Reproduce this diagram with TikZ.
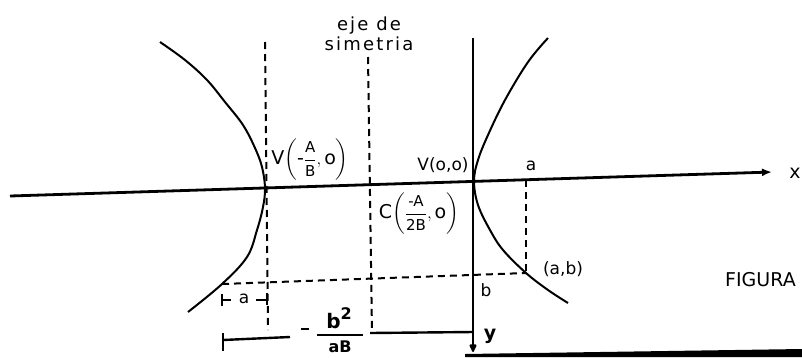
\documentclass[tikz,border=0pt]{standalone}
\usepackage{amsmath}
\usepackage{fontspec}
\setmainfont{DejaVu Sans}
\newfontfamily\lett[LetterSpace=12]{DejaVu Sans}
\usetikzlibrary{arrows.meta}
\newcommand\myfr[2]{\dfrac{\text{\fontsize{15}{15}\selectfont #1}}{\text{\fontsize{15}{15}\selectfont #2}}}
\begin{document}
\begin{tikzpicture}[x=1pt,y=-1pt,
  curve/.style={line width=2pt},
  axisline/.style={line width=2.8pt},
  dsh/.style={line width=2pt, dash pattern=on 7pt off 5pt},
  thin/.style={line width=2pt},
  lbl/.style={inner sep=0pt, font=\fontsize{19}{22}\selectfont},
  slbl/.style={inner sep=0pt, font=\fontsize{17}{20}\selectfont}]
\useasboundingbox (0,0) rectangle (802,357);
% coordinates
\coordinate (xl) at (10,196);
\coordinate (xr) at (772,172);
\coordinate (yt) at (473,38);
\coordinate (yb) at (473,352);
\coordinate (VL) at (265,188);
\coordinate (VLt) at (265,42);
\coordinate (VLb) at (268,330);
\coordinate (St) at (368,57);
\coordinate (Sb) at (372,333);
\coordinate (A0) at (526,180);
\coordinate (AB) at (526,273);
\coordinate (LB) at (222,284);
% axes
\draw[axisline,-{Latex[length=10pt,width=8pt]}] (xl) -- (xr);
\draw[axisline,-{Latex[length=10pt,width=9pt,round]}] (yt) -- (yb);
% hyperbola branches
\draw[curve] plot[smooth,tension=0.6] coordinates {(160,42) (185,60) (207,80) (225,102) (243,125) (255,148) (262,167) (265,188) (263,207) (257,230) (247,257) (222,284) (188,312)};
\draw[curve] plot[smooth,tension=0.6] coordinates {(548,38) (528,62) (505,100) (488,135) (478,160) (474,181) (478,205) (490,230) (503,250) (526,273) (548,290) (568,303)};
% dashed lines
\draw[dsh] (VLt) -- (VLb);
\draw[dsh] (St) -- (Sb);
\draw[dsh] (A0) -- (AB);
\draw[dsh] (LB) -- (AB);
% dimension a
\coordinate (da1) at (222,300);
\coordinate (da2) at (231,300);
\coordinate (da3) at (256,300);
\coordinate (da4) at (267,300);
\draw[thin] (222,294) -- (222,306);
\draw[thin] (267,293) -- (267,305);
\draw[thin] (da1) -- (da2);
\draw[thin] (da3) -- (da4);
\node[slbl] (la) at (244,299) {a};
% dimension -b^2/aB
\coordinate (db1) at (223,340);
\coordinate (db2) at (290,337);
\coordinate (db3) at (370,333);
\coordinate (db4) at (473,332);
\draw[line width=2.4pt] (223,333) -- (223,351);
\draw[line width=2.4pt] (db1) -- (db2);
\draw[line width=2.4pt] (db3) -- (db4);
\draw[line width=2.2pt] (301,329) -- (309,329);
\draw[line width=2.2pt] (317,335) -- (363,335);
\node[lbl,font=\fontsize{20}{22}\selectfont\bfseries] (bsq) at (339,318) {b\raisebox{9pt}{\fontsize{16}{16}\selectfont 2}};
\node[lbl,font=\fontsize{16}{18}\selectfont\bfseries] (aB) at (340,347) {aB};
% labels
\node[inner sep=0pt, font=\fontsize{18}{22}\selectfont\lett, align=center] (eje) at (369,34) {eje de\\[-2pt]simetria};
\node[lbl] (vl) at (310,160) {V$\left(\text{-}\myfr{A}{B},\text{o}\right)$};
\node[slbl] (v0) at (443,165) {V(o,o)};
\node[slbl] (la0) at (531,166) {a};
\node[lbl] (c) at (419,214) {C$\left(\myfr{-A}{2B},\text{o}\right)$};
\node[slbl] (lab) at (563,269) {(a,b)};
\node[slbl] (lb) at (486,290) {b};
\node[lbl,font=\fontsize{19}{22}\selectfont\bfseries] (ly) at (490,336) {y};
\node[lbl] (lx) at (795,173) {x};
\node[inner sep=0pt,anchor=west,font=\fontsize{19}{22}\selectfont] (fig) at (725,280) {FIGURA};
% scan edge
\fill (465,354) -- (802,349) -- (802,357) -- (465,357) -- cycle;
\end{tikzpicture}
\end{document}
